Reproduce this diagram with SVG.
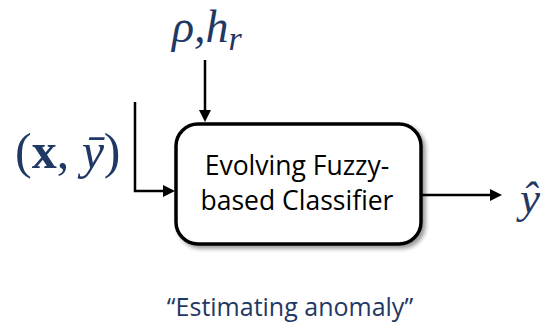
<svg xmlns="http://www.w3.org/2000/svg" width="547" height="328" viewBox="0 0 547 328">
  <defs>
    <filter id="shadow" x="-10%" y="-10%" width="130%" height="130%">
      <feGaussianBlur in="SourceAlpha" stdDeviation="2"/>
      <feOffset dx="3" dy="3" result="b"/>
      <feComponentTransfer><feFuncA type="linear" slope="0.4"/></feComponentTransfer>
      <feMerge><feMergeNode/><feMergeNode in="SourceGraphic"/></feMerge>
    </filter>
  </defs>
  <style>
    .math { font-family: "Liberation Serif", "DejaVu Serif", serif; fill: #1F3864; }
    .label { font-family: "Open Sans", "Liberation Sans", sans-serif; fill: #000; }
    .caption { font-family: "Open Sans", "Liberation Sans", sans-serif; fill: #1F3864; }
    .wire { fill: none; stroke: #000; stroke-width: 2.5; }
    .head { fill: #000; }
  </style>
  <rect width="547" height="328" fill="#fff"/>

  <g id="connectors">
    <!-- parameters into the top of the classifier -->
    <path class="wire" d="M205,60 V112"/>
    <path class="head" d="M199,110 L205,122 L211,110 Z"/>
    <!-- sample and label into the left side -->
    <path class="wire" d="M135,102 V191 H165"/>
    <path class="head" d="M163,185 L175,191 L163,197 Z"/>
    <!-- prediction out of the right side -->
    <path class="wire" d="M422,195 H492"/>
    <path class="head" d="M490,189 L502,195 L490,201 Z"/>
  </g>

  <g id="classifier">
    <rect x="176" y="124" width="245" height="120" rx="22" ry="22" fill="#fff" stroke="#000" stroke-width="3.5" filter="url(#shadow)"/>
    <text class="label" x="297" y="175" font-size="26.5" text-anchor="middle">Evolving Fuzzy-</text>
    <text class="label" x="297" y="210" font-size="26.5" text-anchor="middle">based Classifier</text>
  </g>

  <g id="params">
    <text class="math" x="172" y="42" font-size="46" font-style="italic">ρ,h<tspan font-size="34" dy="8">r</tspan></text>
  </g>

  <g id="input">
    <text class="math" x="15" y="168" font-size="50">(<tspan font-weight="bold">x</tspan>, <tspan font-style="italic">ȳ</tspan>)</text>
  </g>

  <g id="output">
    <text class="math" x="520" y="213" font-size="45" font-style="italic">ŷ</text>
  </g>

  <g id="caption">
    <text class="caption" x="290" y="316" font-size="25" text-anchor="middle">“Estimating anomaly”</text>
  </g>
</svg>
